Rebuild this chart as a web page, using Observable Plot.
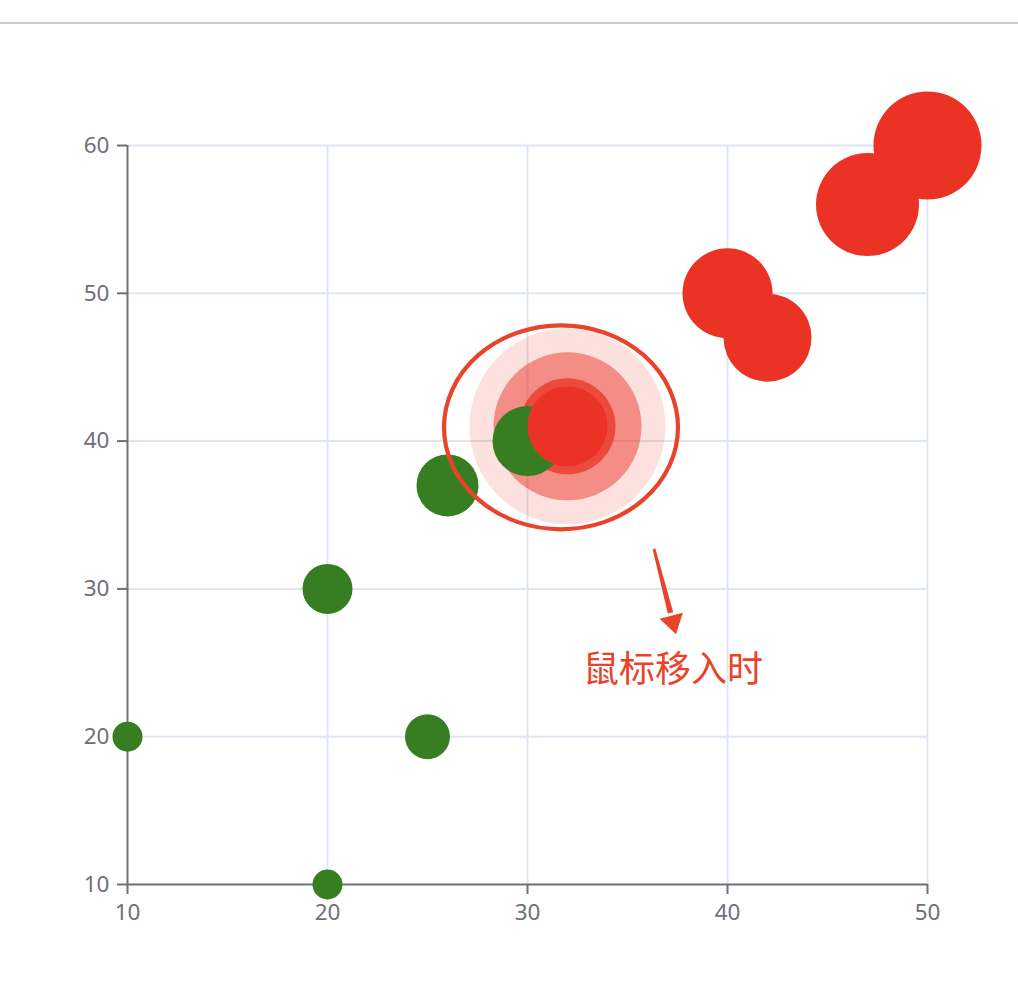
<!DOCTYPE html>
<html>
<head>
<meta charset="utf-8">
<script src="https://cdn.jsdelivr.net/npm/d3@7"></script>
<script src="https://cdn.jsdelivr.net/npm/@observablehq/plot@0.6"></script>
<style>
  html, body { margin: 0; padding: 0; background: #fff; }
  #topbar { height: 22px; border-bottom: 2px solid #cccccc; }
  #chart svg { display: block; }
</style>
</head>
<body>
<div id="topbar"></div>
<div id="chart"></div>
<script>
// Bubble series: x, y and symbol size (diameter)
const greenX = [10, 20, 20, 25, 26, 30];
const greenY = [20, 10, 30, 20, 37, 40];
const greenSize = [30, 30, 50, 45, 62, 70];

const redX = [32, 40, 42, 47, 50];
const redY = [41, 50, 47, 56, 60];
const redSize = [80, 90, 88, 103, 108];

// Axis ticks
const xTicks = [10, 20, 30, 40, 50];
const yTicks = [10, 20, 30, 40, 50, 60];

// Hover annotation (in data units)
const hoverIndex = 0;
const ringCenter = [31.7, 40.9];
const ringRadii = [5.85, 6.9];
const arrowFrom = [36.35, 32.67];
const arrowTo = [37.45, 26.9];
const noteAt = [37.27, 24.5];
const noteText = "鼠标移入时";

const GREEN = "#377e22";
const RED = "#ea3324";
const ANNOT = "#e8432b";
const AXIS = "#6e7079";
const GRID = "#e0e6f1";

const green = greenX.map((x, i) => ({x, y: greenY[i], s: greenSize[i]}));
const red = redX.map((x, i) => ({x, y: redY[i], s: redSize[i]}));
const hovered = [red[hoverIndex]];

// Ellipse outline drawn through the chart scales
function ellipseMark([cx, cy], [rx, ry]) {
  return (index, scales) => {
    const {x, y} = scales;
    const e = d3.create("svg:ellipse")
      .attr("cx", x(cx))
      .attr("cy", y(cy))
      .attr("rx", Math.abs(x(cx + rx) - x(cx)))
      .attr("ry", Math.abs(y(cy + ry) - y(cy)))
      .attr("fill", "none")
      .attr("stroke", ANNOT)
      .attr("stroke-width", 4.2);
    return e.node();
  };
}

// Arrow with a filled head, drawn through the chart scales
function arrowMark([x1, y1], [x2, y2]) {
  return (index, scales) => {
    const {x, y} = scales;
    const ax = x(x1), ay = y(y1), bx = x(x2), by = y(y2);
    const dx = bx - ax, dy = by - ay;
    const len = Math.hypot(dx, dy);
    const ux = dx / len, uy = dy / len;
    const px = -uy, py = ux;
    const headLen = 22, headHalf = 12;
    const hx = bx - ux * headLen, hy = by - uy * headLen;
    const g = d3.create("svg:g").attr("fill", ANNOT);
    g.append("path").attr("d",
      `M${ax + px * 1.4},${ay + py * 1.4}L${hx + px * 2.8},${hy + py * 2.8}` +
      `L${hx - px * 2.8},${hy - py * 2.8}L${ax - px * 1.4},${ay - py * 1.4}Z`);
    g.append("path").attr("d",
      `M${bx},${by}L${hx + px * headHalf + ux * 3},${hy + py * headHalf + uy * 3}` +
      `L${hx - px * headHalf + ux * 3},${hy - py * headHalf + uy * 3}Z`);
    return g.node();
  };
}

const chart = Plot.plot({
  width: 1018,
  height: 958,
  marginLeft: 127,
  marginRight: 91,
  marginTop: 121,
  marginBottom: 98,
  style: {
    fontFamily: "'Noto Sans', 'Liberation Sans', sans-serif",
    fontSize: "22.5px",
    background: "#fff",
    overflow: "visible"
  },
  x: {domain: [10, 50]},
  y: {domain: [10, 60]},
  r: {type: "linear", domain: [0, 100], range: [0, 50]},
  marks: [
    Plot.gridX(xTicks.slice(1), {stroke: GRID, strokeOpacity: 1, strokeWidth: 2}),
    Plot.gridY(yTicks.slice(1), {stroke: GRID, strokeOpacity: 1, strokeWidth: 2}),
    Plot.ruleY([10], {stroke: AXIS, strokeWidth: 2}),
    Plot.ruleX([10], {stroke: AXIS, strokeWidth: 2}),
    Plot.axisX(xTicks, {tickSize: 10, tickPadding: 10, stroke: AXIS, strokeWidth: 2, fill: AXIS, label: null}),
    Plot.axisY(yTicks, {tickSize: 10, tickPadding: 8, stroke: AXIS, strokeWidth: 2, fill: AXIS, label: null}),
    // hover emphasis rings
    Plot.dot(hovered, {x: "x", y: "y", r: 98, fill: RED, fillOpacity: 0.15, stroke: null}),
    Plot.dot(hovered, {x: "x", y: "y", r: 74, fill: RED, fillOpacity: 0.48, stroke: null}),
    Plot.dot(hovered, {x: "x", y: "y", r: 48, fill: RED, fillOpacity: 0.74, stroke: null}),
    Plot.dot(green, {x: "x", y: "y", r: "s", fill: GREEN, stroke: null}),
    Plot.dot(red, {x: "x", y: "y", r: "s", fill: RED, stroke: null}),
    ellipseMark(ringCenter, ringRadii),
    arrowMark(arrowFrom, arrowTo),
    Plot.text([noteText], {
      x: () => noteAt[0], y: () => noteAt[1], text: d => d,
      fill: ANNOT, fontSize: 36,
      fontFamily: "'Noto Sans CJK SC', sans-serif"
    })
  ]
});

document.getElementById("chart").append(chart);
</script>
</body>
</html>
